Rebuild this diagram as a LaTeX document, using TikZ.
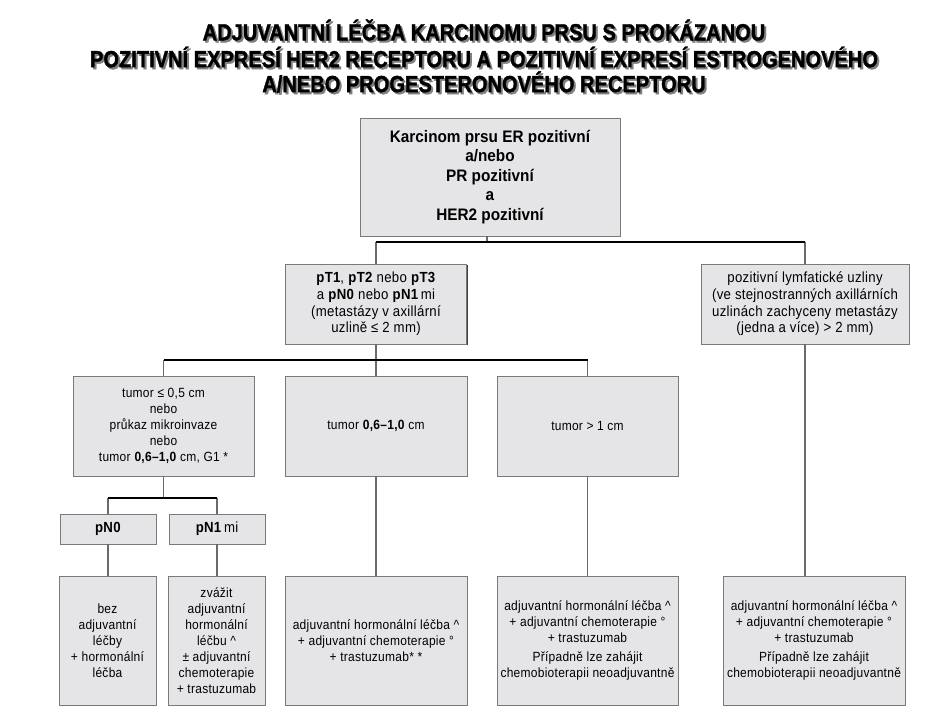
\documentclass[tikz,border=0pt]{standalone}
\usepackage{fontspec}
\setmainfont{Liberation Sans}
\newfontfamily\boxfont{Liberation Sans}[FakeStretch=0.9, LetterSpace=2]
\newfontfamily\topfont{Liberation Sans}[FakeStretch=0.92]
\newfontface\titlefont{Liberation Sans Bold}[FakeBold=1.6]
\usetikzlibrary{shadows}
\definecolor{boxfill}{HTML}{E5E5E7}
\definecolor{boxline}{HTML}{7A7A7A}
\definecolor{vcol}{HTML}{6A6A6A}
\tikzset{
 bx/.style 2 args={draw=boxline, line width=0.7pt, fill=boxfill,
   minimum width=#1*0.75pt, minimum height=#2*0.75pt, inner sep=0pt, align=center,
   drop shadow={shadow xshift=0.9pt, shadow yshift=-0.9pt, fill=black!75, opacity=1}},
 txt/.style={font=\boxfont\fontsize{10}{12}\selectfont},
 bigtxt/.style={font=\boxfont\fontsize{11}{12.5}\selectfont},
 toptxt/.style={font=\topfont\fontsize{12.5}{14.6}\selectfont\bfseries},
 vline/.style={draw=vcol, line width=1pt},
 hline/.style={draw=black, line width=1.3pt},
 ttl/.style={font={\titlefont\fontsize{17.5}{19}\selectfont}, inner sep=0pt},
 ttlshadow/.style={ttl, text=black!50},
}
\newcommand\tl[1]{\scalebox{0.86}[1]{#1}}
\begin{document}
\begin{tikzpicture}[x=0.75pt,y=-0.75pt]
\useasboundingbox (0,0) rectangle (952,714);
% title
\node[ttlshadow] (t1s) at (486,32) {\tl{ADJUVANTNÍ LÉČBA KARCINOMU PRSU S PROKÁZANOU}};
\node[ttl] (t1) at (484,30) {\tl{ADJUVANTNÍ LÉČBA KARCINOMU PRSU S PROKÁZANOU}};
\node[ttlshadow] (t2s) at (486,59) {\tl{POZITIVNÍ EXPRESÍ HER2 RECEPTORU A POZITIVNÍ EXPRESÍ ESTROGENOVÉHO}};
\node[ttl] (t2) at (484,57) {\tl{POZITIVNÍ EXPRESÍ HER2 RECEPTORU A POZITIVNÍ EXPRESÍ ESTROGENOVÉHO}};
\node[ttlshadow] (t3s) at (486,84) {\tl{A/NEBO PROGESTERONOVÉHO RECEPTORU}};
\node[ttl] (t3) at (484,82) {\tl{A/NEBO PROGESTERONOVÉHO RECEPTORU}};
% boxes
\node[bx={260}{118}, toptxt] (top) at (490,177) {Karcinom prsu ER pozitivní\\a/nebo\\PR pozitivní\\a\\HER2 pozitivní};
\node[bx={181}{80}, bigtxt] (pt) at (376,304) {\textbf{pT1}, \textbf{pT2} nebo \textbf{pT3}\\a \textbf{pN0} nebo \textbf{pN1}\,mi\\(metastázy v axillární\\uzlině ≤ 2 mm)};
\node[bx={208}{80}, bigtxt] (lymph) at (805,304) {pozitivní lymfatické uzliny\\(ve stejnostranných axillárních\\uzlinách zachyceny metastázy\\(jedna a více) > 2 mm)};
\node[bx={181}{100}, txt] (c1) at (163.5,426) {tumor ≤ 0,5 cm\\nebo\\průkaz mikroinvaze\\nebo\\tumor \textbf{0,6–1,0} cm, G1 *};
\node[bx={182}{100}, txt] (c2) at (376,426) {tumor \textbf{0,6–1,0} cm};
\node[bx={181}{100}, txt] (c3) at (587.5,426) {tumor > 1 cm};
\node[bx={96}{30}, bigtxt] (pn0) at (108,529) {\textbf{pN0}};
\node[bx={96}{30}, bigtxt] (pn1) at (217,529) {\textbf{pN1}\,mi};
\node[bx={97}{129}, txt] (b0) at (107.5,640.5) {bez\\adjuvantní\\léčby\\+ hormonální\\léčba};
\node[bx={97}{129}, txt] (b1) at (216.5,640.5) {zvážit\\adjuvantní\\hormonální\\léčbu \textasciicircum\\± adjuvantní\\chemoterapie\\+ trastuzumab};
\node[bx={182}{129}, txt] (b2) at (376,640.5) {adjuvantní hormonální léčba \textasciicircum\\+ adjuvantní chemoterapie °\\+ trastuzumab* *};
\node[bx={181}{129}, txt] (b3) at (587.5,640.5) {adjuvantní hormonální léčba \textasciicircum\\+ adjuvantní chemoterapie °\\+ trastuzumab\\[2pt]Případně lze zahájit\\chemobioterapii neoadjuvantně};
\node[bx={182}{129}, txt] (b4) at (814,640.5) {adjuvantní hormonální léčba \textasciicircum\\+ adjuvantní chemoterapie °\\+ trastuzumab\\[2pt]Případně lze zahájit\\chemobioterapii neoadjuvantně};
% junctions
\coordinate (j1) at (487,242);
\coordinate (j1l) at (376,242);
\coordinate (j1r) at (805,242);
\coordinate (j2) at (376,360);
\coordinate (j2l) at (163.5,360);
\coordinate (j2r) at (587.5,360);
\coordinate (j3) at (163.5,498);
\coordinate (j3l) at (108,498);
\coordinate (j3r) at (217,498);
% vertical connectors
\draw[vline] (j1 |- top.south) -- (j1);
\draw[vline] (j1l) -- (pt.north);
\draw[vline] (j1r) -- (lymph.north);
\draw[vline] (pt.south) -- (j2);
\draw[vline] (j2l) -- (c1.north);
\draw[vline] (j2) -- (c2.north);
\draw[vline] (j2r) -- (c3.north);
\draw[vline] (lymph.south) -- (lymph.south |- b4.north);
\draw[vline] (c2.south) -- (b2.north);
\draw[vline] (c3.south) -- (b3.north);
\draw[vline] (c1.south) -- (j3);
\draw[vline] (j3l) -- (pn0.north);
\draw[vline] (j3r) -- (pn1.north);
\draw[vline] (pn0.south) -- (pn0.south |- b0.north);
\draw[vline] (pn1.south) -- (pn1.south |- b1.north);
% horizontal connectors
\draw[hline] (j1l) -- (j1r);
\draw[hline] (j2l) -- (j2r);
\draw[hline, line width=1.7pt] (j3l) -- (j3r);
\end{tikzpicture}
\end{document}
